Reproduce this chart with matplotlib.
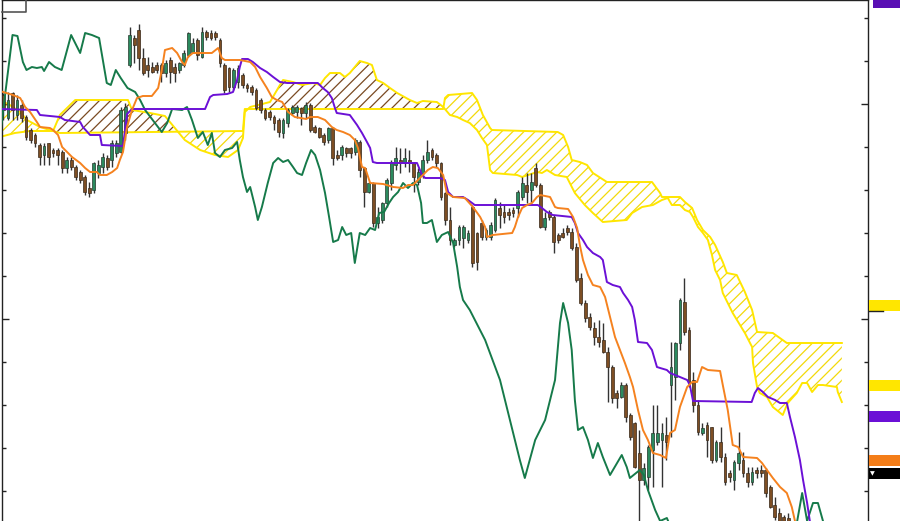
import numpy as np
import matplotlib
matplotlib.use("Agg")
import matplotlib.pyplot as plt
import matplotlib.transforms as mtransforms
from matplotlib.lines import Line2D
from matplotlib.patches import Rectangle

# Candles, one value per bar (price level)
opens = [426, 403, 428, 406, 416, 404, 391, 386, 376, 366,
         378, 371, 371, 369, 353, 361, 354, 349, 344, 333,
         331, 348, 354, 363, 361, 368, 369, 388, 456, 483,
         491, 463, 456, 454, 456, 456, 448, 461, 454, 451,
         456, 466, 469, 481, 464, 489, 488, 488, 481, 456,
         453, 434, 439, 446, 436, 434, 431, 421, 411, 409,
         404, 401, 388, 398, 408, 409, 413, 408, 416, 394,
         393, 386, 381, 393, 366, 366, 373, 373, 369, 379,
         353, 329, 338, 298, 301, 318, 338, 356, 361, 358,
         361, 358, 339, 348, 361, 371, 366, 358, 328, 301,
         276, 281, 283, 281, 314, 288, 298, 284, 284, 291,
         313, 309, 309, 311, 313, 324, 336, 331, 353, 336,
         294, 309, 304, 286, 288, 293, 289, 274, 243, 218,
         204, 193, 184, 181, 169, 154, 128, 124, 136, 106,
         98, 68, 41, 44, 71, 79, 81, 86, 136, 144,
         178, 219, 191, 141, 116, 88, 96, 94, 61, 79,
         64, 48, 41, 58, 61, 48, 39, 51, 51, 51,
         34, 16, 8, 4, 3]
highs = [428, 429, 429, 426, 421, 406, 393, 388, 378, 378,
         378, 373, 373, 371, 364, 364, 356, 351, 346, 339,
         359, 361, 368, 366, 381, 381, 414, 418, 494, 486,
         497, 473, 464, 459, 459, 458, 461, 464, 458, 459,
         471, 489, 483, 483, 494, 491, 491, 490, 483, 458,
         454, 453, 456, 448, 438, 436, 433, 423, 413, 411,
         406, 403, 403, 413, 416, 416, 414, 419, 418, 396,
         394, 388, 394, 394, 371, 376, 374, 374, 383, 381,
         354, 339, 339, 314, 319, 343, 361, 374, 373, 373,
         371, 359, 353, 366, 381, 373, 368, 359, 329, 314,
         283, 296, 296, 291, 316, 289, 301, 293, 299, 323,
         319, 316, 313, 314, 331, 344, 348, 348, 358, 338,
         309, 311, 306, 288, 293, 296, 293, 278, 248, 221,
         208, 199, 201, 198, 174, 156, 131, 139, 138, 108,
         99, 91, 58, 76, 116, 116, 98, 104, 179, 179,
         223, 243, 194, 149, 121, 98, 99, 94, 81, 94,
         68, 51, 61, 89, 69, 54, 54, 54, 56, 53,
         36, 24, 13, 6, 8]
lows = [401, 401, 401, 401, 399, 381, 378, 374, 356, 356,
        356, 364, 356, 348, 348, 351, 341, 338, 326, 324,
        328, 343, 348, 351, 354, 364, 368, 381, 454, 458,
        451, 446, 444, 448, 448, 439, 444, 438, 439, 448,
        454, 464, 468, 461, 463, 481, 481, 481, 454, 428,
        429, 431, 433, 433, 429, 426, 411, 408, 401, 401,
        391, 384, 383, 394, 406, 403, 396, 403, 389, 388,
        383, 376, 378, 356, 361, 361, 364, 363, 366, 344,
        314, 328, 294, 293, 298, 314, 331, 351, 348, 354,
        349, 329, 336, 343, 358, 361, 354, 321, 296, 276,
        274, 276, 273, 278, 254, 251, 281, 281, 281, 289,
        293, 298, 301, 304, 304, 321, 318, 319, 334, 293,
        291, 301, 268, 278, 283, 286, 271, 239, 216, 199,
        191, 176, 174, 168, 119, 118, 113, 123, 99, 81,
        53, 0, 36, 31, 34, 76, 34, 61, 84, 121,
        171, 186, 134, 109, 86, 86, 64, 58, 59, 59,
        36, 39, 31, 51, 44, 34, 36, 43, 44, 24,
        13, 1, -2, -2, -2]
closes = [411, 421, 411, 421, 403, 384, 381, 378, 364, 375,
          364, 368, 366, 353, 361, 354, 344, 341, 329, 328,
          358, 356, 364, 354, 378, 378, 411, 414, 486, 476,
          463, 448, 451, 449, 451, 448, 458, 449, 448, 458,
          468, 488, 478, 466, 489, 484, 483, 484, 458, 431,
          434, 451, 453, 436, 433, 429, 413, 411, 403, 404,
          398, 389, 401, 411, 414, 414, 408, 416, 391, 389,
          384, 379, 393, 363, 363, 374, 368, 368, 381, 351,
          329, 338, 298, 304, 318, 341, 358, 363, 358, 363,
          358, 344, 349, 361, 369, 364, 358, 324, 301, 281,
          281, 294, 294, 288, 258, 259, 284, 291, 296, 321,
          306, 304, 306, 308, 329, 338, 329, 339, 336, 294,
          303, 304, 279, 281, 284, 289, 273, 241, 218, 203,
          194, 184, 179, 169, 154, 123, 123, 136, 104, 84,
          54, 41, 53, 74, 88, 88, 88, 79, 154, 178,
          221, 189, 138, 116, 89, 93, 81, 61, 79, 64,
          39, 44, 59, 68, 48, 39, 49, 48, 48, 28,
          14, 4, 0, -1, -1]

# Ichimoku lines as (bar, level) vertices
tenkan = [(-0.8, 430), (2.1, 426), (3.7, 423), (4.8, 414), (5.9, 409), (7.4, 399),
          (8.1, 394), (10.3, 393), (11.0, 391), (12.1, 386), (13.0, 374), (14.1, 369),
          (15.2, 364), (17.0, 358), (18.1, 353), (19.2, 349), (20.7, 349), (21.4, 346),
          (22.9, 346), (24.1, 349), (25.2, 353), (25.8, 361), (26.5, 369), (27.4, 394),
          (28.5, 411), (29.6, 423), (30.9, 425), (32.9, 425), (34.3, 433), (35.1, 451),
          (35.8, 471), (37.4, 473), (38.5, 468), (39.6, 459), (40.2, 456), (40.9, 464),
          (42.0, 468), (46.2, 468), (47.6, 473), (48.4, 463), (49.1, 461), (52.4, 461),
          (54.7, 459), (55.8, 454), (56.9, 444), (58.4, 433), (59.5, 424), (60.6, 421),
          (61.8, 419), (63.1, 409), (64.6, 404), (67.1, 402), (68.0, 404), (69.7, 404),
          (71.3, 401), (72.8, 394), (73.9, 391), (75.3, 389), (76.8, 386), (77.9, 381),
          (78.6, 373), (79.5, 354), (80.2, 353), (81.3, 338), (84.2, 337), (86.4, 334),
          (88.6, 333), (89.7, 336), (90.8, 336), (91.9, 341), (93.0, 346), (94.1, 351),
          (95.2, 354), (96.3, 353), (97.5, 346), (98.3, 328), (99.7, 324), (102.3, 323),
          (104.1, 314), (105.7, 304), (106.8, 294), (107.2, 284), (108.5, 286), (112.8, 288),
          (113.4, 294), (114.1, 304), (115.0, 313), (116.1, 316), (117.2, 318), (118.3, 324),
          (119.0, 326), (121.2, 324), (122.3, 314), (122.9, 313), (125.2, 312), (126.3, 304),
          (127.2, 293), (127.8, 276), (128.5, 261), (129.6, 246), (130.7, 236), (132.3, 234),
          (133.4, 224), (134.5, 204), (135.6, 184), (136.7, 171), (137.8, 158), (138.9, 144),
          (139.6, 134), (140.7, 111), (141.8, 91), (142.9, 81), (144.0, 68), (145.6, 66),
          (146.9, 63), (147.8, 88), (148.9, 91), (150.0, 114), (151.6, 134), (152.7, 139),
          (153.8, 139), (154.9, 154), (156.2, 151), (158.9, 150), (159.5, 136), (160.6, 111),
          (161.7, 76), (162.9, 74), (164.0, 64), (167.1, 63), (168.2, 58), (169.3, 51),
          (170.6, 43), (172.2, 34), (173.7, 28), (174.8, 14), (175.5, 0), (176.0, -9)]

kijun = [(-0.8, 412), (7.4, 411), (8.1, 406), (12.5, 404), (13.6, 401), (17.0, 399),
         (17.6, 394), (19.2, 386), (21.4, 386), (21.8, 376), (26.5, 375), (27.4, 407),
         (28.5, 412), (44.7, 412), (45.8, 424), (46.5, 426), (49.6, 427), (50.9, 429),
         (51.8, 441), (52.4, 454), (52.9, 462), (54.2, 462), (55.3, 459), (56.9, 453),
         (58.4, 449), (59.8, 444), (61.3, 439), (62.9, 438), (69.7, 438), (70.8, 433),
         (71.9, 429), (72.8, 423), (73.5, 413), (73.9, 408), (76.8, 406), (78.4, 396),
         (79.5, 388), (80.6, 379), (81.3, 373), (81.9, 359), (82.8, 358), (91.7, 358),
         (92.8, 346), (93.5, 343), (96.8, 343), (97.9, 341), (98.6, 329), (99.7, 324),
         (101.9, 324), (103.0, 321), (104.5, 316), (118.5, 316), (119.4, 313), (120.5, 309),
         (121.8, 306), (126.0, 304), (126.7, 298), (127.4, 288), (128.5, 281), (129.4, 274),
         (130.7, 268), (132.3, 264), (132.9, 261), (133.8, 239), (135.1, 236), (136.7, 234),
         (137.4, 228), (138.5, 221), (139.4, 214), (140.0, 201), (140.7, 179), (142.7, 178),
         (143.8, 171), (144.9, 154), (145.6, 153), (147.1, 151), (147.8, 148), (150.0, 144),
         (151.6, 141), (152.2, 136), (152.9, 120), (165.9, 119), (166.6, 128), (167.3, 133),
         (168.4, 129), (169.5, 124), (171.1, 121), (172.2, 118), (173.7, 118), (174.4, 104),
         (175.5, 84), (176.6, 61), (177.3, 41), (178.2, 18), (178.8, 0), (179.3, -9)]

chikou = [(-0.8, 384), (2.0, 486), (3.1, 485), (4.3, 459), (5.1, 451), (6.3, 454),
          (7.4, 453), (8.5, 454), (9.0, 450), (10.1, 459), (11.4, 454), (12.9, 451),
          (15.0, 486), (17.0, 468), (18.1, 488), (19.6, 486), (21.2, 483), (22.9, 438),
          (23.8, 436), (24.9, 451), (26.0, 443), (27.5, 433), (29.2, 429), (30.3, 421),
          (31.4, 411), (33.6, 398), (35.1, 389), (36.3, 398), (37.4, 412), (39.6, 411),
          (40.7, 414), (41.8, 401), (43.1, 383), (44.2, 389), (45.3, 376), (46.2, 388),
          (46.9, 368), (48.0, 364), (49.1, 371), (50.7, 373), (51.8, 379), (52.4, 361),
          (53.1, 344), (54.0, 329), (54.7, 334), (55.8, 314), (56.4, 301), (57.3, 314),
          (58.6, 338), (59.8, 358), (60.9, 363), (62.0, 359), (63.1, 361), (64.2, 354),
          (65.1, 348), (66.2, 346), (67.1, 358), (68.2, 371), (69.1, 366), (70.2, 351),
          (71.3, 328), (72.2, 304), (73.1, 279), (74.2, 281), (75.1, 294), (76.0, 286),
          (77.1, 288), (77.9, 258), (79.0, 288), (80.2, 286), (81.3, 293), (82.4, 291),
          (83.3, 308), (84.4, 309), (85.5, 318), (86.4, 324), (87.5, 329), (88.6, 338),
          (89.7, 333), (90.8, 338), (91.7, 336), (92.6, 318), (93.0, 298), (93.9, 298),
          (95.0, 301), (96.1, 279), (97.2, 286), (98.6, 289), (99.7, 278), (100.6, 254),
          (101.2, 234), (101.9, 221), (103.4, 211), (106.8, 181), (110.1, 141), (112.3, 101),
          (114.5, 61), (115.6, 43), (117.9, 81), (120.1, 101), (122.3, 141), (123.4, 198),
          (124.1, 218), (125.2, 198), (126.0, 171), (126.7, 121), (127.4, 91), (128.5, 94),
          (129.6, 81), (130.7, 63), (131.8, 78), (132.9, 64), (134.5, 46), (135.8, 56),
          (137.1, 66), (138.2, 54), (138.9, 43), (141.1, 51), (142.0, 46), (142.9, 31),
          (144.5, 11), (145.6, 0), (147.1, 3), (148.2, -9), (150.0, -39), (174.4, -39),
          (176.0, 0), (177.1, 28), (178.2, 0), (179.5, 18), (180.6, 18), (181.7, 0),
          (182.4, -9)]

span_a = [(-0.8, 384), (2.5, 388), (5.9, 390), (11.0, 390), (12.5, 406), (15.9, 421),
          (27.6, 421), (28.5, 411), (32.5, 408), (35.8, 405), (38.0, 393), (40.2, 381),
          (43.6, 371), (46.9, 366), (49.8, 364), (52.0, 371), (53.1, 383), (53.5, 409),
          (54.7, 414), (59.1, 419), (61.3, 436), (62.0, 441), (64.2, 439), (66.2, 436),
          (68.6, 438), (70.2, 436), (71.3, 443), (72.4, 448), (74.6, 448), (75.7, 444),
          (76.8, 448), (77.9, 454), (79.0, 460), (80.6, 458), (81.7, 456), (82.8, 441),
          (84.2, 438), (85.7, 433), (87.3, 428), (90.1, 421), (91.7, 418), (93.0, 420),
          (96.1, 419), (97.5, 414), (99.0, 406), (100.6, 404), (101.9, 401), (103.4, 398),
          (105.0, 391), (106.1, 383), (107.2, 376), (107.4, 369), (107.9, 351), (108.5, 348),
          (113.9, 346), (115.0, 344), (118.3, 349), (119.4, 348), (120.5, 351), (122.3, 346),
          (124.9, 344), (126.7, 328), (128.9, 316), (130.7, 308), (132.9, 299), (138.2, 301),
          (139.4, 308), (141.6, 314), (144.0, 316), (146.0, 321), (147.3, 323), (148.2, 316),
          (150.0, 316), (151.1, 311), (152.2, 309), (152.9, 304), (154.0, 294), (155.1, 288),
          (156.2, 281), (157.1, 266), (157.8, 251), (158.9, 241), (159.5, 228), (161.7, 208),
          (164.4, 188), (166.0, 174), (166.2, 158), (167.1, 134), (167.7, 128), (169.3, 124),
          (170.6, 114), (172.8, 106), (173.9, 118), (175.9, 128), (177.1, 138), (178.2, 138),
          (179.3, 129), (180.6, 136), (181.7, 136), (184.8, 134), (185.0, 129), (185.9, 119)]

span_b = [(-0.8, 421), (1.4, 416), (3.7, 409), (5.2, 401), (8.1, 394), (11.0, 390),
          (12.5, 388), (53.1, 390), (53.5, 412), (97.5, 412), (97.9, 423), (98.6, 426),
          (103.9, 428), (105.0, 421), (106.3, 406), (107.9, 393), (108.3, 391), (122.9, 389),
          (124.1, 386), (125.2, 374), (126.0, 361), (127.8, 359), (129.4, 356), (130.7, 348),
          (133.8, 339), (143.8, 339), (145.6, 328), (146.0, 324), (150.0, 324), (151.1, 319),
          (152.7, 313), (153.8, 301), (155.1, 291), (156.7, 284), (157.8, 276), (159.5, 259),
          (160.4, 248), (162.6, 246), (164.4, 229), (166.0, 211), (167.1, 189), (170.6, 188),
          (173.7, 178), (185.9, 178)]

# price tags at the right edge
tag_levels = [519, 215.5, 135.5, 104.5, 61, 47.5]
tag_colors = ["#5a0fb4", "#ffe600", "#ffe600", "#6b10d6", "#f47d18", "#000000"]

# colours
BULL = "#2b8a5e"
BEAR = "#7d4e24"
WICK = "#333333"
TENKAN = "#f5821f"
KIJUN = "#6b10d6"
CHIKOU = "#167a4a"
CLOUD = "#ffe600"
HATCH_Y = "#f2d90a"
HATCH_B = "#7a4a22"

plt.rcParams["hatch.linewidth"] = 0.9

fig = plt.figure(figsize=(9, 5.21), dpi=100)
ax = fig.add_axes([2 / 900, 0, 866 / 900, 1])
ax.set_xlim(-0.33, 191.7)
ax.set_ylim(0, 521)

# cloud
ax_a, ay_a = np.array(span_a, dtype=float).T
bx_b, by_b = np.array(span_b, dtype=float).T
grid = np.linspace(ax_a.min(), ax_a.max(), 4000)
a = np.interp(grid, ax_a, ay_a)
b = np.interp(grid, bx_b, by_b)
ax.fill_between(grid, a, b, where=b >= a, interpolate=True, facecolor="none",
                edgecolor=HATCH_Y, linewidth=0, hatch="///", zorder=1)
ax.fill_between(grid, a, b, where=a > b, interpolate=True, facecolor="none",
                edgecolor=HATCH_B, linewidth=0, hatch="///", zorder=1)
ax.plot(ax_a, ay_a, color=CLOUD, lw=1.4, zorder=2)
ax.plot(bx_b, by_b, color=CLOUD, lw=1.4, zorder=2)

# candles
o = np.array(opens, dtype=float)
h = np.array(highs, dtype=float)
l = np.array(lows, dtype=float)
c = np.array(closes, dtype=float)
idx = np.arange(len(o))
up = c >= o
ax.vlines(idx, l, h, color=WICK, lw=1.0, zorder=3)
ax.bar(idx[up], np.maximum((c - o)[up], 0.8), bottom=o[up], width=0.62,
       color=BULL, edgecolor="#263a2e", linewidth=0.5, zorder=4)
ax.bar(idx[~up], np.maximum((o - c)[~up], 0.8), bottom=c[~up], width=0.62,
       color=BEAR, edgecolor="#3a2a1a", linewidth=0.5, zorder=4)

# lines
for pts, col in [(chikou, CHIKOU), (kijun, KIJUN), (tenkan, TENKAN)]:
    xs, ys = np.array(pts, dtype=float).T
    ax.plot(xs, ys, color=col, lw=1.4, zorder=5, solid_joinstyle="round")

# axis frame and ticks
minor_levels = [30, 73, 116, 159, 202, 245, 288, 331, 374, 417, 460, 503]
ax.set_yticks([202, 417])
ax.set_yticks(minor_levels, minor=True)
ax.set_xticks([])
ax.tick_params(axis="y", which="both", direction="in", left=True, right=True,
               labelleft=False, labelright=False, color="#222222", width=1)
ax.tick_params(axis="y", which="major", length=5)
ax.tick_params(axis="y", which="minor", length=3)
ax.spines["bottom"].set_visible(False)
for s in ["left", "right", "top"]:
    ax.spines[s].set_color("#222222")
    ax.spines[s].set_linewidth(1.0)

# right side price tags
trans = mtransforms.blended_transform_factory(ax.transAxes, ax.transData)
for k, (lv, col) in enumerate(zip(tag_levels, tag_colors)):
    x0 = 1.0058 if k == 0 else 1.0015
    ax.add_patch(Rectangle((x0, lv - 5.5), 0.04, 11, transform=trans,
                           facecolor=col, edgecolor="none", clip_on=False, zorder=6))
ax.add_line(Line2D([1.0015, 1.0175], [tag_levels[1] - 5, tag_levels[1] - 5],
                   transform=trans, color="#222222", lw=1, clip_on=False, zorder=7))
ax.text(1.0045, tag_levels[5], "\u25bc", transform=trans, color="white",
        fontsize=4.5, ha="center", va="center", clip_on=False, zorder=7)

# small bracket at the top left
fig.add_artist(Line2D([2 / 900, 26 / 900, 26 / 900], [1 - 12 / 521, 1 - 12 / 521, 1],
                      transform=fig.transFigure, color="#555555", lw=1.2))

fig.savefig("out.png", dpi=100)
